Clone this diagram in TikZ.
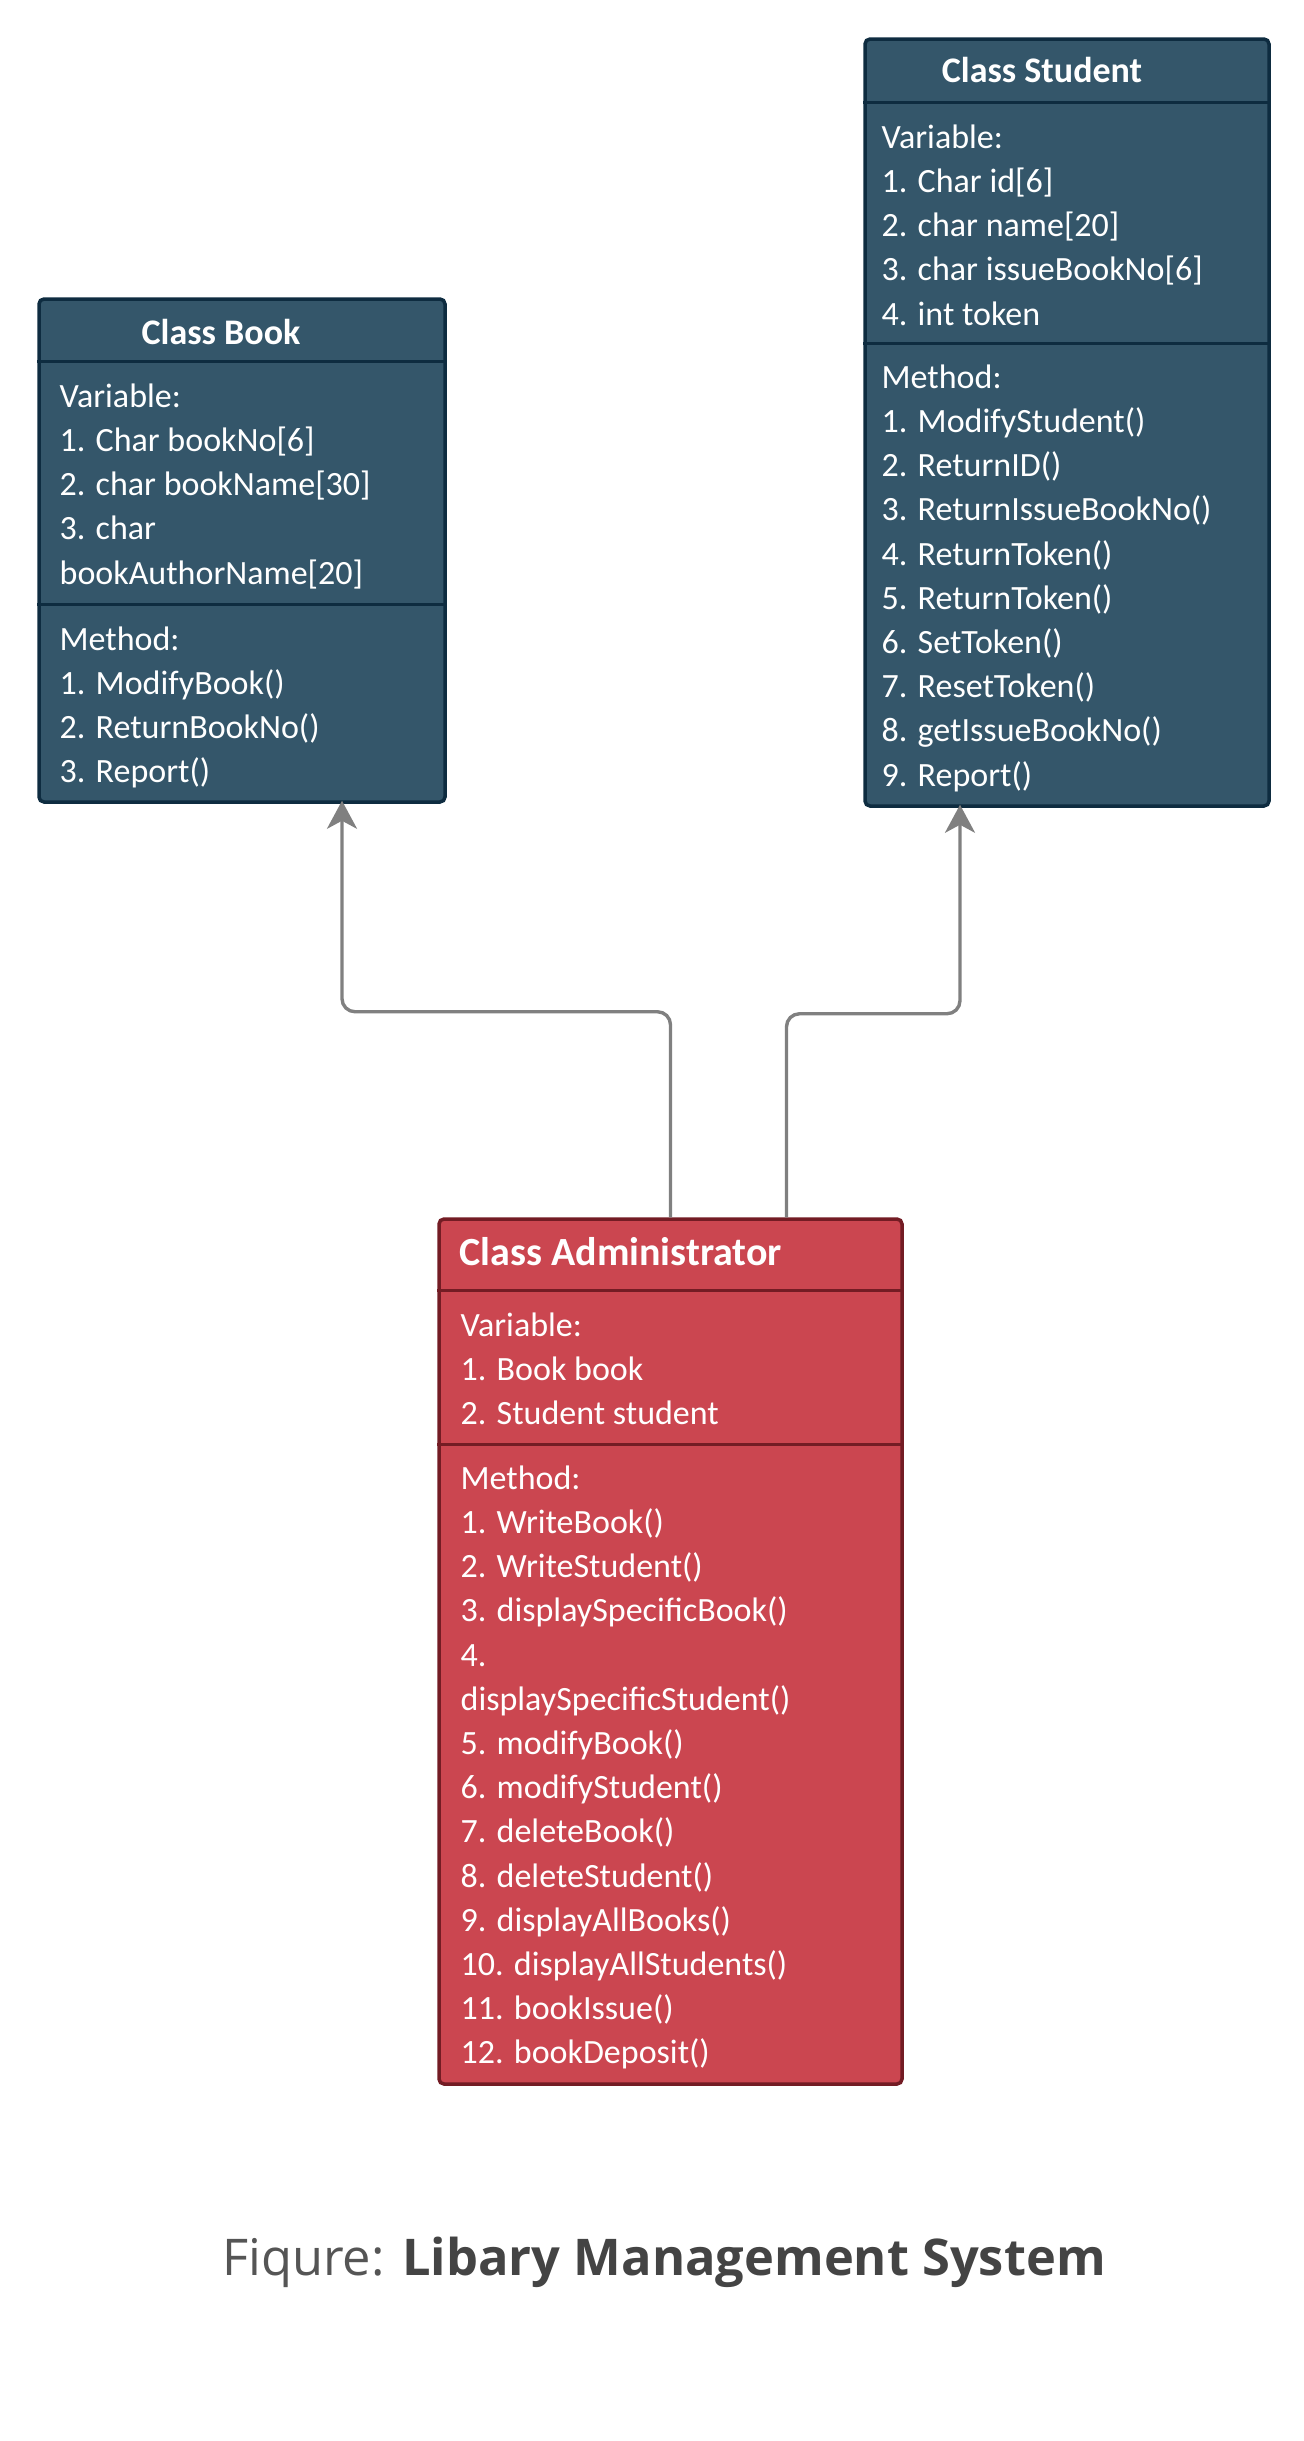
\documentclass[tikz,border=0pt]{standalone}
\usepackage{fontspec}
\setmainfont{Carlito}
\newfontfamily\captionfont{Open Sans}
\usepackage{xcolor}
\usepackage{tikz}
\usetikzlibrary{positioning,calc,arrows.meta}
\definecolor{bookFill}{HTML}{34566A}
\definecolor{bookLine}{HTML}{0E2C40}
\definecolor{adminFill}{HTML}{CB4650}
\definecolor{adminLine}{HTML}{731C24}
\definecolor{linkGray}{HTML}{808080}
\definecolor{capGray}{HTML}{555555}
\definecolor{capDark}{HTML}{444444}

\begin{document}
\begin{tikzpicture}[
    x=0.5pt, y=-0.5pt,
    blueclass/.style={%
      draw=bookLine,
      fill=bookFill,
      line width=1.75pt,
      rounded corners=2.5pt,
      inner sep=0pt,
    },
    redclass/.style={%
      blueclass,
      draw=adminLine,
      fill=adminFill,
    },
    blueline/.style={draw=bookLine, line width=1.75pt},
    redline/.style={draw=adminLine, line width=1.75pt},
    classname/.style={%
      text=white,
      inner sep=0pt,
      font=\fontsize{18}{22}\selectfont\bfseries,
    },
    members/.style={%
      text=white,
      inner sep=0pt,
      align=left,
      anchor=base west,
      font=\fontsize{17}{22.1}\selectfont,
    },
    link/.style={%
      draw=linkGray,
      line width=1.7pt,
      rounded corners=6.5pt,
      -{Stealth[length=14pt,width=15pt,inset=4pt]},
    },
  ]
    \useasboundingbox (0,0) rectangle (1304,2441);

    \node [blueclass, minimum width=203pt, minimum height=251.5pt] (book) at (242,550.5) {};
    \node [blueclass, minimum width=202pt, minimum height=383.5pt] (student) at (1067,422.5) {};
    \node [redclass, minimum width=231.5pt, minimum height=432.5pt] (admin) at (670.5,1651.5) {};

    \draw [blueline] ($(book.north west)+(0,64)$) -- ($(book.north east)+(0,64)$);
    \draw [blueline] ($(book.north west)+(0,307)$) -- ($(book.north east)+(0,307)$);
    \draw [blueline] ($(student.north west)+(0,65)$) -- ($(student.north east)+(0,65)$);
    \draw [blueline] ($(student.north west)+(0,306)$) -- ($(student.north east)+(0,306)$);
    \draw [redline] ($(admin.north west)+(0,73)$) -- ($(admin.north east)+(0,73)$);
    \draw [redline] ($(admin.north west)+(0,227)$) -- ($(admin.north east)+(0,227)$);

    \node [classname, anchor=base] (bookName) at ($(book.north)+(-21,47)$) {Class Book};
    \node [classname, anchor=base] (studentName) at ($(student.north)+(-25,45.5)$) {Class Student};
    \node [classname, anchor=base west, font=\fontsize{20}{24}\selectfont\bfseries] (adminName) at ($(admin.north west)+(22,48)$) {Class Administrator};

    % member lists sit on the baseline of their last line
    \node [members] (bookVar) at ($(book.north west)+(22,286.8)$) {Variable:\\1. Char bookNo[6]\\2. char bookName[30]\\3. char\\bookAuthorName[20]};
    \node [members] (bookFun) at ($(book.north west)+(22,485.6)$) {Method:\\1. ModifyBook()\\2. ReturnBookNo()\\3. Report()};

    \node [members] (studentVar) at ($(student.north west)+(18,287.8)$) {Variable:\\1. Char id[6]\\2. char name[20]\\3. char issueBookNo[6]\\4. int token};
    \node [members] (studentFun) at ($(student.north west)+(18,748.8)$) {Method:\\1. ModifyStudent()\\2. ReturnID()\\3. ReturnIssueBookNo()\\4. ReturnToken()\\5. ReturnToken()\\6. SetToken()\\7. ResetToken()\\8. getIssueBookNo()\\9. Report()};

    \node [members] (adminVar) at ($(admin.north west)+(23,207.4)$) {Variable:\\1. Book book\\2. Student student};
    \node [members] (adminFun) at ($(admin.north west)+(23,846.6)$) {Method:\\1. WriteBook()\\2. WriteStudent()\\3. displaySpecificBook()\\4.\\displaySpecificStudent()\\5. modifyBook()\\6. modifyStudent()\\7. deleteBook()\\8. deleteStudent()\\9. displayAllBooks()\\10. displayAllStudents()\\11. bookIssue()\\12. bookDeposit()};

    \coordinate (bookTip) at ($(book.south)+(100,-3)$);
    \coordinate (studentTip) at ($(student.south)+(-107,-3)$);
    \draw [link] (admin.north) |- ($(bookTip)+(0,211)$) -- (bookTip);
    \draw [link] ($(admin.north)+(116,0)$) |- ($(studentTip)+(0,209)$) -- (studentTip);

    \node [anchor=base, font=\captionfont\fontsize{25.3}{30}\selectfont] (figCaption) at (664,2275) {\textcolor{capGray}{Fiqure:} \textcolor{capDark}{\bfseries Libary Management System}};
\end{tikzpicture}
\end{document}
